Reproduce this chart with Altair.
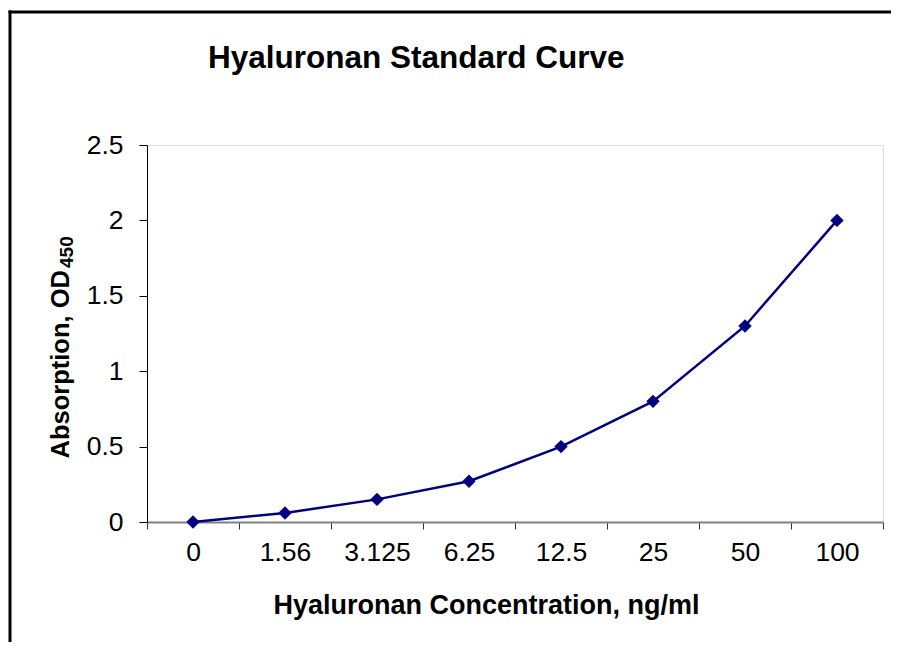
import altair as alt
import pandas as pd

categories = ["0", "1.56", "3.125", "6.25", "12.5", "25", "50", "100"]
absorbance = [0.0, 0.06, 0.15, 0.27, 0.5, 0.8, 1.3, 2.0]
y_ticks = [0, 0.5, 1, 1.5, 2, 2.5]

chart_title = "Hyaluronan Standard Curve"
x_title = "Hyaluronan Concentration, ng/ml"
y_title = "Absorption, OD"
y_title_sub = "450"

FONT = "Liberation Sans"
NAVY = "#000080"

df = pd.DataFrame({
    "concentration": categories,
    "absorbance": absorbance,
    "idx": list(range(len(categories))),
})

cat_js = "[" + ",".join("'" + c + "'" for c in categories) + "]"
label_expr = f"datum.value < {len(categories) - 1} ? {cat_js}[round(datum.value + 0.5)] : ''"

x_enc = alt.X(
    "idx:Q",
    scale=alt.Scale(domain=[-0.5, len(categories) - 0.5], nice=False, zero=False),
    axis=alt.Axis(
        values=[i - 0.5 for i in range(len(categories) + 1)],
        labelExpr=label_expr,
        labelOffset=46,
        labelFlush=False,
        labelOverlap=False,
        labelBound=False,
        tickSize=7,
        tickColor="#333333",
        tickWidth=1,
        domainColor="#808080",
        domainWidth=2,
        labelFontSize=26.5,
        labelPadding=10,
        labelBaseline="top",
        labelColor="black",
        labelFont=FONT,
        grid=False,
        title=x_title,
        titleFont=FONT,
        titleFontSize=27,
        titleFontWeight="bold",
        titleColor="black",
        titleX=126,
        titleY=91,
        titleAlign="left",
        titleBaseline="alphabetic",
    ),
)

y_enc = alt.Y(
    "absorbance:Q",
    scale=alt.Scale(domain=[0, 2.5], nice=False),
    axis=alt.Axis(
        values=y_ticks,
        format="~g",
        tickSize=8,
        tickColor="black",
        domainColor="black",
        domainWidth=1,
        labelPadding=16,
        labelFontSize=26.5,
        labelColor="black",
        labelFont=FONT,
        grid=False,
        title=y_title,
        titleFont=FONT,
        titleFontSize=25.5,
        titleFontWeight="bold",
        titleColor="black",
        titleAngle=270,
        titleX=-79,
        titleY=313,
        titleAlign="left",
        titleBaseline="alphabetic",
    ),
)

base = alt.Chart(df).encode(x=x_enc, y=y_enc)
line = base.mark_line(color=NAVY, strokeWidth=2.5)
points = base.mark_point(shape="diamond", filled=True, size=180, color=NAVY, opacity=1)

anchor = pd.DataFrame({"a": [0]})
frame_top = alt.Chart(anchor).mark_rule(color="black", strokeWidth=3).encode(
    x=alt.value(-138.5), x2=alt.value(760), y=alt.value(-133)
)
frame_left = alt.Chart(anchor).mark_rule(color="black", strokeWidth=3).encode(
    x=alt.value(-137), y=alt.value(-134.5), y2=alt.value(520)
)

title = alt.Chart(pd.DataFrame({"t": [chart_title]})).mark_text(
    align="left", baseline="alphabetic", fontSize=31.5, fontWeight="bold", font=FONT, color="black"
).encode(x=alt.value(61), y=alt.value(-77), text="t:N")

subscript = alt.Chart(pd.DataFrame({"t": [y_title_sub]})).mark_text(
    align="left", baseline="alphabetic", angle=270, fontSize=19, fontWeight="bold", font=FONT, color="black"
).encode(x=alt.value(-74), y=alt.value(123), text="t:N")

chart = alt.layer(frame_top, frame_left, line, points, title, subscript).properties(
    width=736,
    height=377,
    autosize=alt.AutoSizeParams(type="none"),
    padding={"left": 139, "top": 137, "right": 8, "bottom": 120},
    background="white",
).configure_view(stroke=None).configure(font=FONT)

chart.save("out.html", embed_options={"renderer": "svg", "actions": False})
